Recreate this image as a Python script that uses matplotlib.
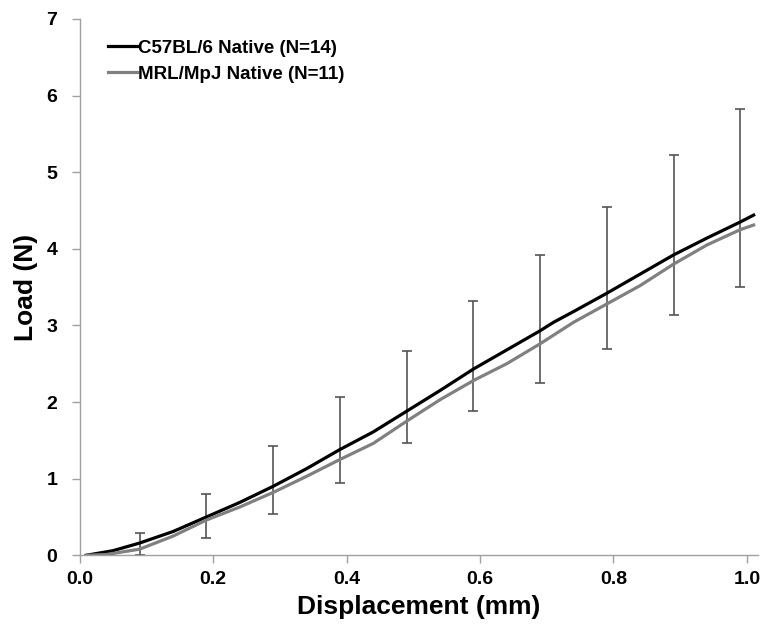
import matplotlib.pyplot as plt
import numpy as np

plt.rcParams['font.family'] = ['Liberation Sans', 'DejaVu Sans']
plt.rcParams['font.weight'] = 'bold'

# mean load curves
disp_b6 = [0.01, 0.05, 0.09, 0.14, 0.19, 0.24, 0.29, 0.34, 0.39, 0.44, 0.49,
           0.54, 0.59, 0.64, 0.69, 0.71, 0.74, 0.79, 0.84, 0.89, 0.94, 0.99, 1.01]
load_b6 = [0.0, 0.06, 0.16, 0.31, 0.50, 0.69, 0.90, 1.13, 1.38, 1.61, 1.88,
           2.15, 2.43, 2.68, 2.93, 3.04, 3.18, 3.42, 3.67, 3.92, 4.14, 4.35, 4.44]

disp_mrl = [0.01, 0.04, 0.09, 0.14, 0.19, 0.24, 0.29, 0.34, 0.39, 0.44, 0.49,
            0.54, 0.59, 0.64, 0.69, 0.74, 0.79, 0.84, 0.89, 0.94, 0.99, 1.01]
load_mrl = [0.0, 0.01, 0.08, 0.25, 0.46, 0.63, 0.82, 1.03, 1.25, 1.46, 1.75,
            2.03, 2.28, 2.50, 2.76, 3.04, 3.28, 3.52, 3.80, 4.05, 4.25, 4.31]

# error bars: upper end (B6 +SD) and lower end (MRL -SD)
err_x = [0.09, 0.19, 0.29, 0.39, 0.49, 0.59, 0.69, 0.79, 0.89, 0.99]
err_top = [0.29, 0.80, 1.43, 2.06, 2.67, 3.32, 3.92, 4.55, 5.22, 5.83]
err_bot = [0.01, 0.22, 0.54, 0.94, 1.46, 1.88, 2.25, 2.69, 3.14, 3.50]

fig = plt.figure(figsize=(7.73, 6.31), dpi=100)
ax = fig.add_axes([0.103, 0.120, 0.878, 0.850])

top = np.array(err_top)
bot = np.array(err_bot)
mid = (top + bot) / 2
ax.errorbar(err_x, mid, yerr=(top - bot) / 2, fmt='none', ecolor='#555555',
            elinewidth=1.2, capsize=3.5, capthick=1.2, zorder=2)

ax.plot(disp_b6, load_b6, color='black', lw=2.3, label='C57BL/6 Native (N=14)', zorder=3)
ax.plot(disp_mrl, load_mrl, color='#808080', lw=2.3, label='MRL/MpJ Native (N=11)', zorder=3)

ax.set_xlim(0, 1.017)
ax.set_ylim(0, 7)
ax.set_xticks(np.arange(0, 1.01, 0.2))
ax.set_xticklabels(['0.0', '0.2', '0.4', '0.6', '0.8', '1.0'], fontweight='bold')
ax.set_yticks(range(8))
ax.set_yticklabels([str(i) for i in range(8)], fontweight='bold')

for s in ['top', 'right']:
    ax.spines[s].set_visible(False)
for s in ['left', 'bottom']:
    ax.spines[s].set_color('#a0a0a0')
    ax.spines[s].set_linewidth(1.0)
ax.tick_params(colors='#a0a0a0', labelcolor='black', labelsize=14, length=6, width=1.0)
ax.tick_params(axis='x', pad=5)
ax.tick_params(axis='y', pad=10)

ax.set_xlabel('Displacement (mm)', fontsize=19, fontweight='bold', labelpad=5)
ax.set_ylabel('Load (N)', fontsize=19, fontweight='bold', labelpad=6)

leg = ax.legend(loc='upper left', bbox_to_anchor=(0.042, 0.961), frameon=False,
                fontsize=13.5, handlelength=1.55, handletextpad=0.05,
                labelspacing=0.45, borderpad=0, borderaxespad=0)

fig.savefig('out.png', dpi=100)
